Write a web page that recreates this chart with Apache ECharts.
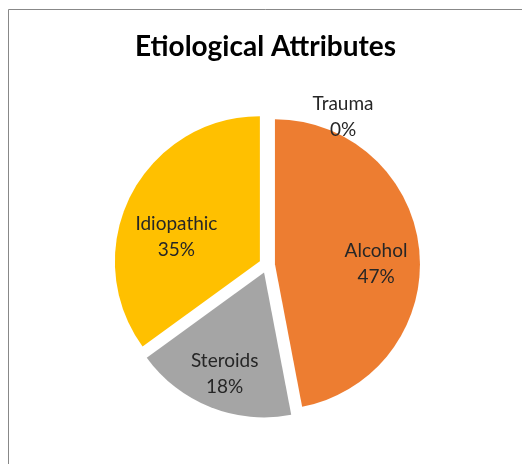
<!DOCTYPE html>
<html>
<head>
<meta charset="utf-8">
<script src="https://cdn.jsdelivr.net/npm/echarts@6/dist/echarts.min.js"></script>
<style>
html,body{margin:0;padding:0;background:#fff;}
#c{width:522px;height:464px;}
</style>
</head>
<body>
<div id="c"></div>
<script>
var categories = ['Trauma', 'Alcohol', 'Steroids', 'Idiopathic'];
var values = [0, 47, 18, 35];
var colors = ['#4472C4', '#ED7D31', '#A5A5A5', '#FFC000'];

var labelTweaks = [[76, -39], [0, 9], [-2, 7], [7, 22]];

var chart = echarts.init(document.getElementById('c'), null, { renderer: 'canvas' });
var center = [267, 265];
var font = 'Lato, "Open Sans", sans-serif';

var mainData = categories.map(function (n, i) {
  return { name: n, value: values[i], selected: true, itemStyle: { color: colors[i] } };
});
var labelData = categories.map(function (n, i) {
  return { name: n, value: values[i], selected: true, itemStyle: { color: 'rgba(0,0,0,0)' } };
});

chart.setOption({
  animation: false,
  backgroundColor: '#fff',
  title: {
    text: 'Etiological Attributes',
    left: 130, top: 28,
    textStyle: { fontFamily: font, fontWeight: 'bold', fontSize: 28, color: '#000' }
  },
  graphic: [{
    type: 'rect', silent: true,
    shape: { x: 8.5, y: 9.5, width: 700, height: 700 },
    style: { fill: null, stroke: '#888', lineWidth: 1 }
  }],
  series: [{
    type: 'pie',
    center: center,
    radius: 145,
    startAngle: 90,
    clockwise: true,
    selectedMode: 'multiple',
    selectedOffset: 8,
    avoidLabelOverlap: false,
    label: { show: false },
    labelLine: { show: false },
    emphasis: { disabled: true },
    itemStyle: { borderWidth: 0 },
    data: mainData
  }, {
    type: 'pie',
    center: center,
    radius: 197,
    startAngle: 90,
    clockwise: true,
    selectedMode: 'multiple',
    selectedOffset: 8,
    silent: true,
    avoidLabelOverlap: false,
    z: 5,
    label: {
      show: true, position: 'inside',
      formatter: '{b}\n{d}%',
      fontFamily: font, fontSize: 19, color: '#262626', lineHeight: 26
    },
    labelLayout: function (p) {
      var t = labelTweaks[p.dataIndex];
      return { dx: t[0], dy: t[1] };
    },
    labelLine: { show: false },
    emphasis: { disabled: true },
    itemStyle: { borderWidth: 0 },
    data: labelData
  }]
});
</script>
</body>
</html>
